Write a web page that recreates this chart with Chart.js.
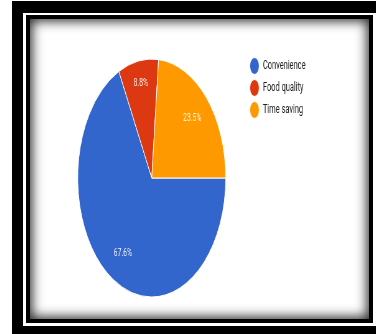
<!DOCTYPE html>
<html>
<head>
<meta charset="utf-8">
<script src="https://cdn.jsdelivr.net/npm/chart.js@4.4.1/dist/chart.umd.min.js"></script>
<style>
  html, body { margin: 0; padding: 0; overflow: hidden; background: #fff; width: 376px; height: 334px; }
  .frame { position: absolute; left: 12px; top: 1px; width: 400px; height: 400px; background: #000; }
  .gap { position: absolute; left: 23px; top: 13px; width: 400px; height: 313px; background: #fff; }
  .box {
    position: absolute; left: 26px; top: 15px; width: 347px; height: 308px;
    box-sizing: border-box; border: 4px solid #000; background: #fff;
    box-shadow: inset 0 0 12px 2px rgba(0, 0, 0, 0.85);
  }
  /* the picture is squeezed sideways, so the chart is drawn wide and scaled */
  .wrap { position: absolute; left: 30px; top: 19px; width: 545px; height: 300px; transform: scaleX(0.622); transform-origin: 0 0; }
</style>
</head>
<body>
<div class="frame"></div>
<div class="gap"></div>
<div class="box"></div>
<div class="wrap"><canvas id="pie"></canvas></div>

<script>
const categories = ['Convenience', 'Food quality', 'Time saving'];
const shares = [67.6, 8.8, 23.5];
const sliceColors = ['#3366cc', '#dc3912', '#ff9900'];

// percent text inside each slice
const pctLabels = {
  id: 'pctLabels',
  afterDatasetsDraw(chart) {
    const ctx = chart.ctx;
    const meta = chart.getDatasetMeta(0);
    ctx.save();
    ctx.fillStyle = 'rgba(255,255,255,0.92)';
    ctx.font = '11px Roboto';
    ctx.textAlign = 'center';
    ctx.textBaseline = 'middle';
    meta.data.forEach((arc, i) => {
      const p = arc.getProps(['x', 'y', 'startAngle', 'endAngle', 'outerRadius'], true);
      const mid = (p.startAngle + p.endAngle) / 2;
      const f = shares[i] < 15 ? 0.81 : 0.74;
      const x = p.x + Math.cos(mid) * p.outerRadius * f;
      const y = p.y + Math.sin(mid) * p.outerRadius * f;
      ctx.fillText(shares[i].toFixed(1) + '%', x, y);
    });
    ctx.restore();
  }
};

const pieChart = new Chart(document.getElementById('pie'), {
  type: 'pie',
  data: {
    labels: categories,
    datasets: [{
      data: shares,
      backgroundColor: sliceColors,
      borderColor: '#ffffff',
      borderWidth: 1,
      radius: 119
    }]
  },
  options: {
    responsive: true,
    maintainAspectRatio: false,
    animation: false,
    rotation: 90,
    layout: { padding: { top: 31, bottom: 13, left: 48, right: 92 } },
    plugins: {
      legend: {
        position: 'right',
        align: 'start',
        labels: {
          usePointStyle: true,
          pointStyle: 'circle',
          pointStyleWidth: 15,
          boxHeight: 12,
          padding: 10,
          color: '#222',
          font: { family: 'Roboto', size: 12 }
        }
      },
      tooltip: { enabled: false }
    }
  },
  plugins: [pctLabels]
});
</script>
</body>
</html>
